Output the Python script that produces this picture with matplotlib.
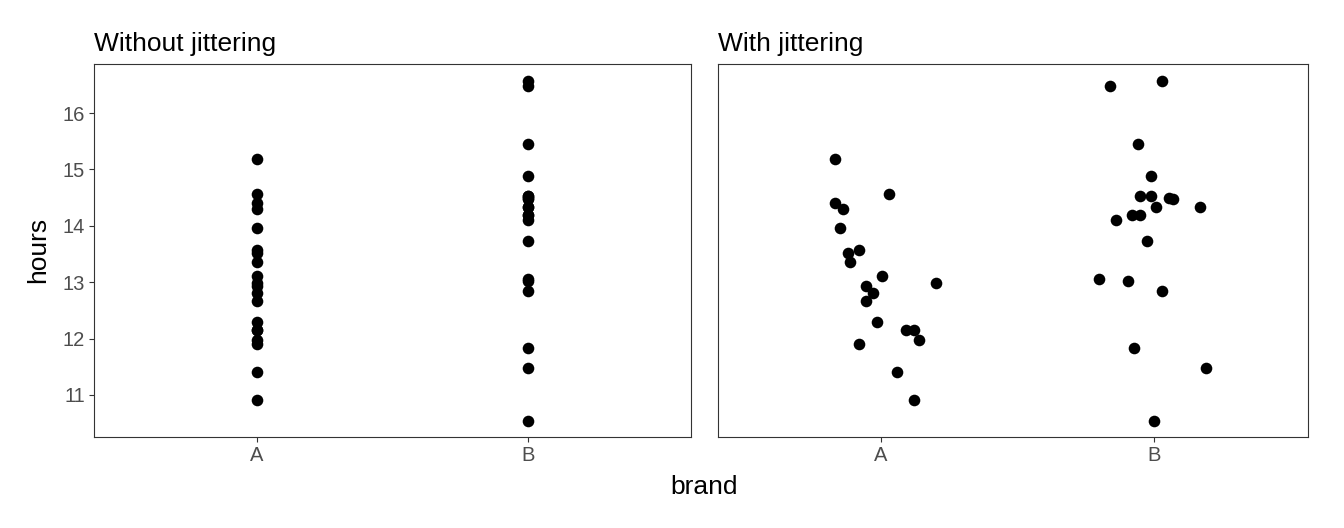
import matplotlib
matplotlib.use("Agg")
import matplotlib.pyplot as plt
import numpy as np

plt.rcParams['font.family'] = ['Liberation Sans', 'DejaVu Sans']

brands = ["A", "B"]

# hours per brand
hours_a = [15.18, 14.56, 14.41, 14.29, 13.97, 13.58, 13.51, 13.36, 13.11, 12.98,
           12.93, 12.80, 12.67, 12.29, 12.16, 12.16, 11.98, 11.90, 11.41, 10.91]
hours_b = [16.48, 16.56, 15.46, 14.88, 14.53, 14.53, 14.49, 14.47, 14.33, 14.33,
           14.19, 14.19, 14.10, 13.73, 13.06, 13.03, 12.84, 11.84, 11.48, 10.54]

# horizontal jitter offsets seen in the right panel (same order as above)
jitter_a = [-0.17, 0.03, -0.17, -0.14, -0.15, -0.08, -0.12, -0.115, 0.005, 0.20,
            -0.054, -0.03, -0.055, -0.016, 0.09, 0.12, 0.14, -0.08, 0.06, 0.12]
jitter_b = [-0.16, 0.03, -0.06, -0.01, -0.05, -0.01, 0.056, 0.07, 0.007, 0.17,
            -0.08, -0.05, -0.14, -0.027, -0.20, -0.095, 0.03, -0.073, 0.19, 0.0]

fig = plt.figure(figsize=(13.44, 5.28), dpi=100)
ax1 = fig.add_axes([94 / 1344, 1 - 437 / 528, 597 / 1344, 373 / 528])
ax2 = fig.add_axes([718 / 1344, 1 - 437 / 528, 590 / 1344, 373 / 528], sharey=ax1)

dot = 70
x_a = np.ones(len(hours_a))
x_b = np.ones(len(hours_b)) * 2
ax1.scatter(x_a, hours_a, s=dot, color='black', linewidths=0, zorder=3)
ax1.scatter(x_b, hours_b, s=dot, color='black', linewidths=0, zorder=3)
ax2.scatter(x_a + np.array(jitter_a), hours_a, s=dot, color='black', linewidths=0, zorder=3)
ax2.scatter(x_b + np.array(jitter_b), hours_b, s=dot, color='black', linewidths=0, zorder=3)

ax1.set_xlim(0.4, 2.6)
ax2.set_xlim(0.403, 2.564)
ax1.set_ylim(10.255, 16.87)

for ax, title in [(ax1, "Without jittering"), (ax2, "With jittering")]:
    ax.set_xticks([1, 2])
    ax.set_xticklabels(brands)
    ax.set_title(title, loc='left', fontsize=19, pad=9)
    for sp in ax.spines.values():
        sp.set_color('#333333')
        sp.set_linewidth(0.8)
    ax.tick_params(colors='#333333', labelcolor='#4d4d4d', labelsize=14.5,
                   length=3.6, width=0.8, pad=3)

ax1.set_yticks([11, 12, 13, 14, 15, 16])
ax2.tick_params(axis='y', left=False, labelleft=False)

fig.text(38 / 1344, 1 - 250 / 528, "hours", rotation=90, ha='center', va='center', fontsize=19)
fig.text(704 / 1344, 1 - 487 / 528, "brand", ha='center', va='center', fontsize=19)

fig.savefig("out.png", dpi=100)
